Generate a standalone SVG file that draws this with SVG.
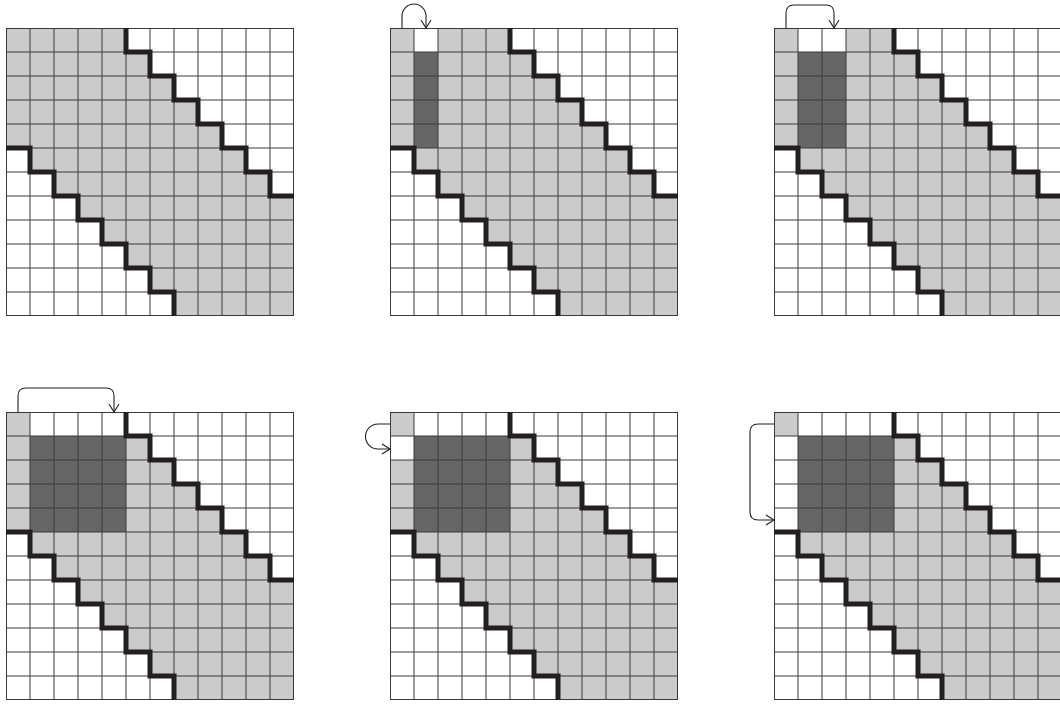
<svg xmlns="http://www.w3.org/2000/svg" xmlns:xlink="http://www.w3.org/1999/xlink" width="1060" height="704" viewBox="0 0 1060 704">
<style>
.lt{fill:#cbcbcb}
.wh{fill:#ffffff}
.dk{fill:#666666}
.gl{fill:none;stroke:#3a3a3a;stroke-width:1}
.st{fill:none;stroke:#231f20;stroke-width:5;stroke-linejoin:miter;stroke-linecap:butt}
.ar{fill:none;stroke:#231f20;stroke-width:1.1}
</style>
<defs>
<g id="fills">
<rect class="lt" x="0" y="0" width="288" height="288"/>
<path class="wh" d="M120 0 V24 H144 V48 H168 V72 H192 V96 H216 V120 H240 V144 H264 V168 H288 V0 Z"/>
<path class="wh" d="M0 120 H24 V144 H48 V168 H72 V192 H96 V216 H120 V240 H144 V264 H168 V288 H0 Z"/>
</g>
<g id="lines">
<path class="gl" d="M0.5 0 V288 M24 0 V288 M48 0 V288 M72 0 V288 M96 0 V288 M120 0 V288 M144 0 V288 M168 0 V288 M192 0 V288 M216 0 V288 M240 0 V288 M264 0 V288 M287.5 0 V288 M0 0.5 H288 M0 24 H288 M0 48 H288 M0 72 H288 M0 96 H288 M0 120 H288 M0 144 H288 M0 168 H288 M0 192 H288 M0 216 H288 M0 240 H288 M0 264 H288 M0 287.5 H288"/>
<path class="st" d="M120 0 V24 H144 V48 H168 V72 H192 V96 H216 V120 H240 V144 H264 V168 H288"/>
<path class="st" d="M0 120 H24 V144 H48 V168 H72 V192 H96 V216 H120 V240 H144 V264 H168 V288"/>
</g>
<marker id="ah" markerWidth="12" markerHeight="12" refX="9" refY="6" orient="auto" markerUnits="userSpaceOnUse">
<path d="M1 1 L9 6 L1 11" fill="none" stroke="#231f20" stroke-width="1.1"/>
</marker>
</defs>
<rect x="0" y="0" width="1060" height="704" fill="#ffffff"/>
<g id="panel1" transform="translate(6,28)">
<use xlink:href="#fills"/>
<use xlink:href="#lines"/>
</g>
<g id="panel2" transform="translate(390,28)">
<use xlink:href="#fills"/>
<rect class="wh" x="24" y="0" width="24" height="24"/>
<rect class="dk" x="24" y="24" width="24" height="96"/>
<use xlink:href="#lines"/>
</g>
<g id="panel3" transform="translate(774,28)">
<use xlink:href="#fills"/>
<rect class="wh" x="24" y="0" width="48" height="24"/>
<rect class="dk" x="24" y="24" width="48" height="96"/>
<use xlink:href="#lines"/>
</g>
<g id="panel4" transform="translate(6,412)">
<use xlink:href="#fills"/>
<rect class="wh" x="24" y="0" width="96" height="24"/>
<rect class="dk" x="24" y="24" width="96" height="96"/>
<use xlink:href="#lines"/>
</g>
<g id="panel5" transform="translate(390,412)">
<use xlink:href="#fills"/>
<rect class="wh" x="24" y="0" width="96" height="24"/>
<rect class="wh" x="0" y="24" width="24" height="24"/>
<rect class="dk" x="24" y="24" width="96" height="96"/>
<use xlink:href="#lines"/>
</g>
<g id="panel6" transform="translate(774,412)">
<use xlink:href="#fills"/>
<rect class="wh" x="24" y="0" width="96" height="24"/>
<rect class="wh" x="0" y="24" width="24" height="96"/>
<rect class="dk" x="24" y="24" width="96" height="96"/>
<use xlink:href="#lines"/>
</g>
<g id="connectors">
<path class="ar" marker-end="url(#ah)" d="M402 28 V16 A12 12 0 0 1 426 16 V28"/>
<path class="ar" marker-end="url(#ah)" d="M786 28 V13 Q786 5 794 5 H826 Q834 5 834 13 V28"/>
<path class="ar" marker-end="url(#ah)" d="M18 412 V396 Q18 388 26 388 H106 Q114 388 114 396 V412"/>
<path class="ar" marker-end="url(#ah)" d="M390 424 H378 A12.5 12.5 0 0 0 378 449 H390"/>
<path class="ar" marker-end="url(#ah)" d="M774 424 H758 Q750 424 750 432 V512 Q750 520 758 520 H774"/>
</g>
</svg>
